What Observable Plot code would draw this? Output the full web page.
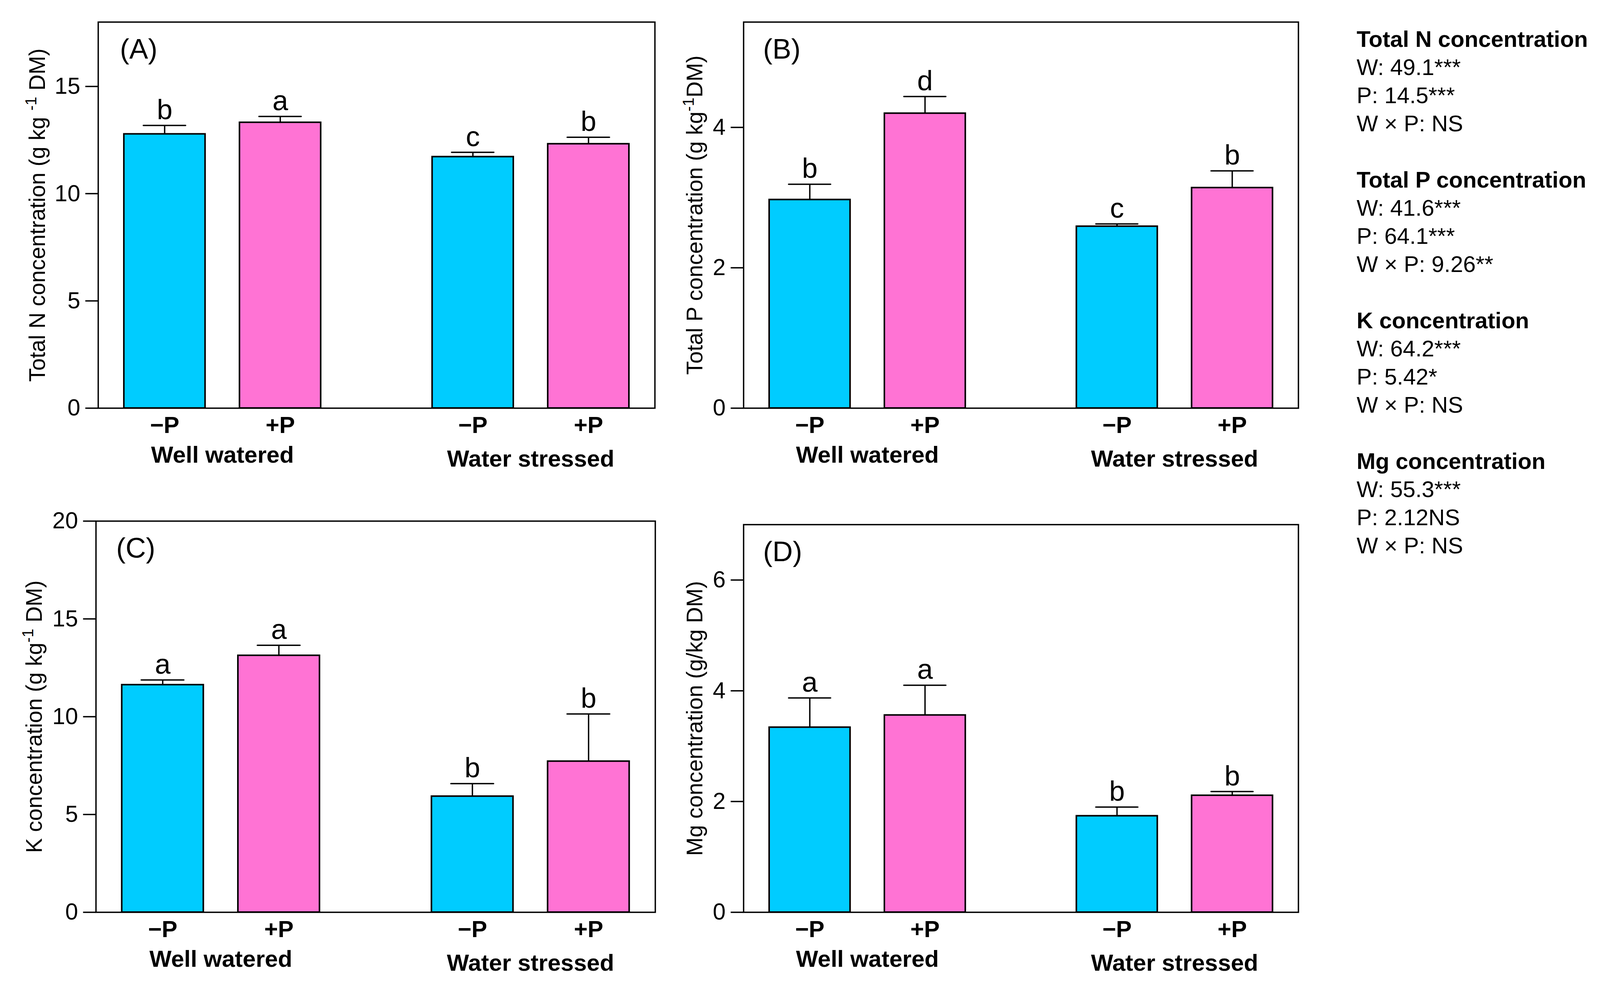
<!DOCTYPE html>
<html><head><meta charset="utf-8">
<script src="https://cdn.jsdelivr.net/npm/d3@7"></script>
<script src="https://cdn.jsdelivr.net/npm/@observablehq/plot@0.6"></script>
<style>
html,body{margin:0;padding:0;background:#fff;overflow:hidden;}
#root{position:relative;height:2518px;background:#fff;font-family:"Liberation Sans",Arial,Helvetica,sans-serif;overflow:hidden;}
.panel{position:absolute;}
#stats{position:absolute;top:64px;color:#000;font-size:58px;font-family:"Liberation Sans",Arial,Helvetica,sans-serif;}
#stats .g{margin-bottom:72px;}
#stats .l{line-height:72px;height:72px;white-space:nowrap;}
#stats .h{font-weight:bold;}
</style></head><body><div id="root"></div>
<script>
// ---- categories ----
const groups = ["Well watered", "Water stressed"];
const treatments = ["\u2212P", "+P"];
const barGroup = ["Well watered", "Well watered", "Water stressed", "Water stressed"];
const barTreatment = ["\u2212P", "+P", "\u2212P", "+P"];
const barColors = ["#00CCFF", "#FF73D4"];

// ---- (A) Total N ----
const nMean = [12.78, 13.32, 11.72, 12.32];
const nSE = [0.40, 0.28, 0.21, 0.31];
const nLetters = ["b", "a", "c", "b"];
const nTicks = [0, 5, 10, 15];
const nDomain = [0, 18];

// ---- (B) Total P ----
const pMean = [2.97, 4.20, 2.59, 3.14];
const pSE = [0.22, 0.24, 0.035, 0.24];
const pLetters = ["b", "d", "c", "b"];
const pTicks = [0, 2, 4];
const pDomain = [0, 5.5];

// ---- (C) K ----
const kMean = [11.63, 13.13, 5.93, 7.72];
const kSE = [0.25, 0.52, 0.65, 2.42];
const kLetters = ["a", "a", "b", "b"];
const kTicks = [0, 5, 10, 15, 20];
const kDomain = [0, 20];

// ---- (D) Mg ----
const mMean = [3.34, 3.56, 1.74, 2.11];
const mSE = [0.53, 0.54, 0.16, 0.07];
const mLetters = ["a", "a", "b", "b"];
const mTicks = [0, 2, 4, 6];
const mDomain = [0, 7];

// ---- ANOVA text ----
const statTitles = ["Total N concentration", "Total P concentration", "K concentration", "Mg concentration"];
const statW = ["49.1***", "41.6***", "64.2***", "55.3***"];
const statP = ["14.5***", "64.1***", "5.42*", "2.12NS"];
const statWP = ["NS", "9.26**", "NS", "NS"];

const FONT = '"Liberation Sans", Arial, Helvetica, sans-serif';
const root = document.getElementById("root");
// layout is designed on a 4276-wide page; fit it horizontally to the real viewport
const VW = Math.min(window.innerWidth || 4276, 4276);
const SX = VW / 4276;
root.style.width = VW + "px";

function rowsOf(means, ses, letters) {
  return means.map((m, i) => ({
    group: barGroup[i], treatment: barTreatment[i], mean: m, top: m + ses[i], letter: letters[i]
  }));
}

function panel(cfg) {
  const rows = rowsOf(cfg.means, cfg.ses, cfg.letters);
  const placeholder = "__YT_" + cfg.tag;
  const svg = Plot.plot({
    width: Math.round(cfg.width * SX), height: cfg.height,
    marginTop: cfg.m[0], marginRight: cfg.m[1] * SX, marginBottom: cfg.m[2], marginLeft: cfg.m[3] * SX,
    style: {fontFamily: FONT, fontSize: "59px", color: "black", background: "white", overflow: "visible"},
    fx: {domain: groups, paddingInner: 0.194, paddingOuter: 0, round: false},
    x: {domain: treatments, paddingInner: 0.2977, paddingOuter: 0.2233, round: false},
    y: {domain: cfg.domain},
    color: {domain: treatments, range: barColors},
    marks: [
      Plot.ruleX(rows, {fx: "group", x: "treatment", y1: "mean", y2: "top", stroke: "black", strokeWidth: 3.5}),
      Plot.tickY(rows, {fx: "group", x: "treatment", y: "top", stroke: "black", strokeWidth: 3.5, insetLeft: 52 * SX, insetRight: 52 * SX, strokeLinecap: "round"}),
      Plot.barY(rows, {fx: "group", x: "treatment", y: "mean", fill: "treatment", stroke: "black", strokeWidth: 4}),
      Plot.text(rows, {fx: "group", x: "treatment", y: "top", text: "letter", lineAnchor: "bottom", dy: -16, fontSize: 72, fill: "black"}),
      Plot.frame({facet: "super", stroke: "black", strokeWidth: 3.5}),
      Plot.axisY({ticks: cfg.ticks, tickSize: 34 * SX, tickPadding: 14 * SX, fontSize: 59, label: null, strokeWidth: 3.5, tickFormat: d => String(d)}),
      Plot.axisX({tickSize: 0, tickPadding: 21, fontSize: 60, fontWeight: "bold", label: null}),
      Plot.axisFx({anchor: "bottom", ticks: [groups[0]], tickSize: 0, tickPadding: 97, fontSize: 60, fontWeight: "bold", label: null}),
      Plot.axisFx({anchor: "bottom", ticks: [groups[1]], tickSize: 0, tickPadding: 107, fontSize: 60, fontWeight: "bold", label: null}),
      Plot.text([cfg.tag], {facet: "super", frameAnchor: "top-left", dx: cfg.tagDx * SX, dy: 42, lineAnchor: "top", textAnchor: "start", fontSize: 72, fill: "black"}),
      Plot.text([placeholder], {facet: "super", frameAnchor: "left", rotate: -90, dx: -cfg.titleOffset * SX, textAnchor: "middle", lineAnchor: "middle", fontSize: 57, fill: "black"})
    ]
  });
  svg.querySelectorAll("text").forEach(t => {
    if (t.textContent === placeholder) {
      t.textContent = "";
      const parts = cfg.titleParts;
      const ns = "http://www.w3.org/2000/svg";
      const a = document.createElementNS(ns, "tspan"); a.textContent = parts[0]; t.appendChild(a);
      if (parts.length > 1) {
        const s = document.createElementNS(ns, "tspan"); s.textContent = parts[1];
        s.setAttribute("font-size", "40"); s.setAttribute("dy", "-22"); t.appendChild(s);
        const b = document.createElementNS(ns, "tspan"); b.textContent = parts[2];
        b.setAttribute("dy", "22"); t.appendChild(b);
      }
    }
  });
  const div = document.createElement("div");
  div.className = "panel";
  div.style.left = Math.round(cfg.left * SX) + "px"; div.style.top = cfg.top + "px";
  div.appendChild(svg);
  root.appendChild(div);
}

panel({tag: "(A)", means: nMean, ses: nSE, letters: nLetters, ticks: nTicks, domain: nDomain,
  titleParts: ["Total N concentration (g kg ", "-1", " DM)"],
  left: 0, top: 0, width: 1800, height: 1250, m: [56, 50, 206, 262], titleOffset: 162, tagDx: 58});
panel({tag: "(B)", means: pMean, ses: pSE, letters: pLetters, ticks: pTicks, domain: pDomain,
  titleParts: ["Total P concentration (g kg", "-1", "DM)"],
  left: 1800, top: 0, width: 1800, height: 1250, m: [56, 130, 206, 187], titleOffset: 129, tagDx: 52});
panel({tag: "(C)", means: kMean, ses: kSE, letters: kLetters, ticks: kTicks, domain: kDomain,
  titleParts: ["K concentration (g kg", "-1", " DM)"],
  left: 0, top: 1250, width: 1800, height: 1268, m: [83, 49, 184, 256], titleOffset: 164, tagDx: 54});
panel({tag: "(D)", means: mMean, ses: mSE, letters: mLetters, ticks: mTicks, domain: mDomain,
  titleParts: ["Mg concentration (g/kg DM)"],
  left: 1800, top: 1250, width: 1800, height: 1268, m: [92, 130, 184, 187], titleOffset: 129, tagDx: 52});

const stats = document.createElement("div");
stats.id = "stats";
stats.style.left = Math.round(3626 * SX) + "px";
statTitles.forEach((title, i) => {
  const g = document.createElement("div"); g.className = "g";
  const lines = [[title, true], ["W: " + statW[i], false], ["P: " + statP[i], false], ["W \u00d7 P: " + statWP[i], false]];
  lines.forEach(([txt, bold]) => {
    const l = document.createElement("div");
    l.className = "l" + (bold ? " h" : "");
    l.textContent = txt;
    g.appendChild(l);
  });
  stats.appendChild(g);
});
root.appendChild(stats);
</script>
</body></html>
